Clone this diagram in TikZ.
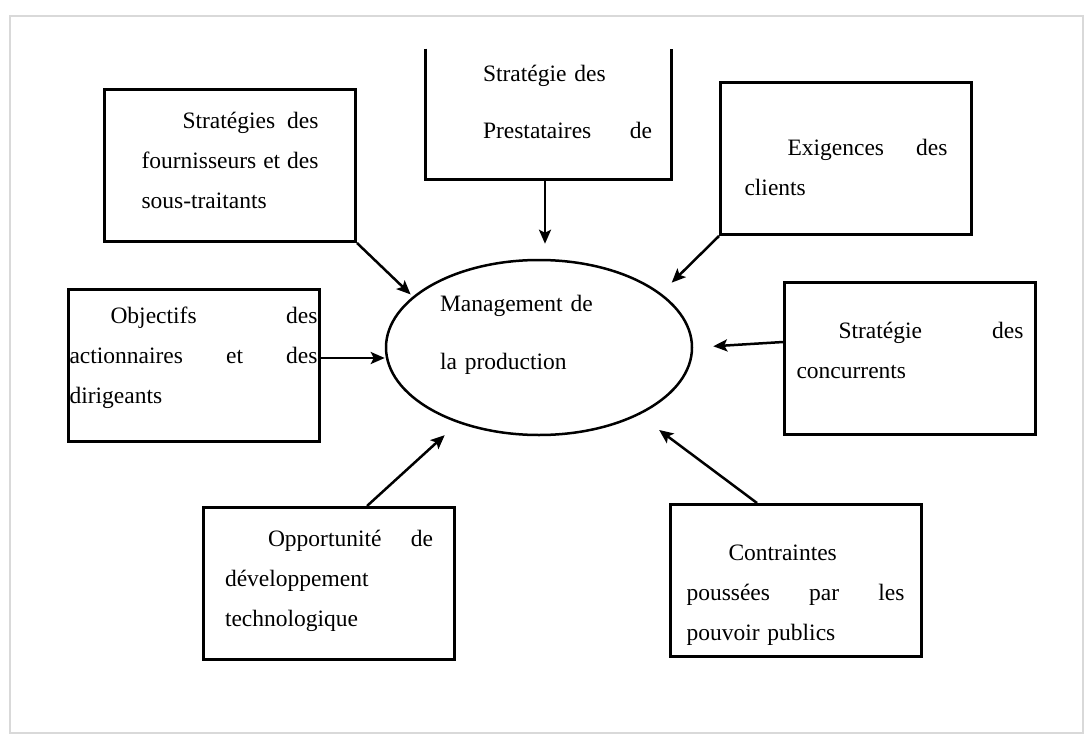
\documentclass[tikz,border=0pt]{standalone}
\usepackage{fontspec}
\setmainfont{Liberation Serif}
\usetikzlibrary{shapes.geometric,arrows.meta}

\begin{document}
\begin{tikzpicture}[x=1pt,y=-1pt,
    box/.style={draw, line width=3pt, minimum width=251, minimum height=152,
      inner sep=0pt, align=left, font=\fontsize{23.5}{40}\selectfont},
    arr/.style={line width=2.5pt, -{Stealth[length=14pt,width=12pt,inset=3pt]}}]
    \useasboundingbox (0,0) rectangle (1087,736);
    % cadre
    \draw[gray!30, line width=2.5pt] (10,16) rectangle (1083,733);

    % centre
    \node[ellipse, draw, line width=2.5pt, minimum width=306, minimum height=175,
      inner sep=0pt, text width=198, align=left, text height=15, text depth=88,
      font=\fontsize{23.5}{58}\selectfont] (prod) at (539,347.5)
      {Management de\\la production};

    % les boites
    \node[box, text width=177, text height=15, text depth=90] (fourn) at (230,165.5)
      {\hspace*{41pt}Stratégies\hfill des\\fournisseurs\hfill et\hfill des\\sous-traitants};
    \node[box, draw=none, minimum width=243, minimum height=128, text width=207,
      text height=15, text depth=81, font=\fontsize{23.5}{57}\selectfont] (prest) at (548.5,114)
      {\hspace*{38pt}Stratégie des\\\hspace*{38pt}Prestataires\hfill de};
    \draw[line width=3pt] (prest.north west) -- (prest.south west)
      -- (prest.south east) -- (prest.north east);
    \node[box, text width=203, text height=15, text depth=22] (exig) at (846,158.5)
      {\hspace*{43pt}Exigences\hfill des\\clients};
    \node[box, text width=248, text height=15, text depth=100] (action) at (193.5,365.5)
      {\hspace*{41pt}Objectifs\hfill des\\actionnaires\hfill et\hfill des\\dirigeants};
    \node[box, text width=227, text height=15, text depth=56] (concur) at (910,358.5)
      {\hspace*{42pt}Stratégie\hfill des\\concurrents};
    \node[box, text width=208, text height=15, text depth=90] (techno) at (329,583.5)
      {\hspace*{43pt}Opportunité\hfill de\\développement\\technologique};
    \node[box, text width=218, text height=15, text depth=56] (contr) at (795.5,580.5)
      {\hspace*{42pt}Contraintes\\poussées\hfill par\hfill les\\pouvoir publics};

    % fleches
    \coordinate (prestfoot) at (545,178);
    \coordinate (actout) at (320,358);
    \coordinate (concout) at (783,342);
    \coordinate (technout) at (367,506);
    \coordinate (controut) at (757,503);

    \draw[arr, shorten >=15pt] (prestfoot) -- (prestfoot |- prod.north);
    \draw[arr, shorten >=3pt] (fourn.south east) -- (prod.158);
    \draw[arr, shorten >=15pt] (exig.south west) -- (prod.24);
    \draw[arr] (actout) -- (actout -| prod.west);
    \draw[arr, shorten >=20pt] (concout) -- (prod.east);
    \draw[arr, shorten >=18pt] (technout) -- (prod.223);
    \draw[arr, shorten >=25pt] (controut) -- (prod.326);
\end{tikzpicture}
\end{document}
